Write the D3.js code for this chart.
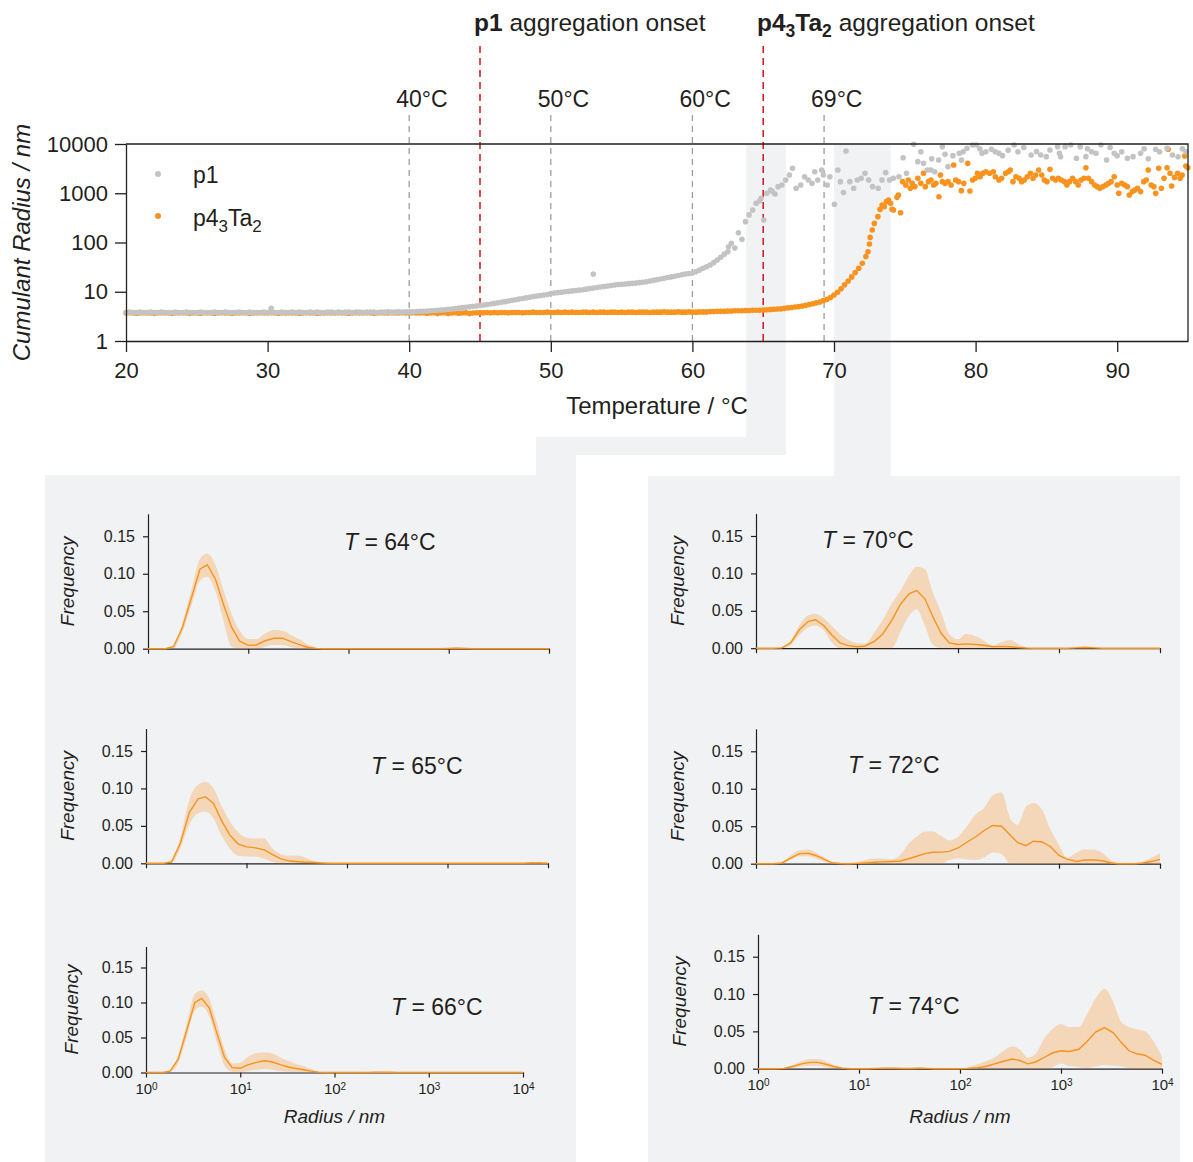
<!DOCTYPE html>
<html>
<head>
<meta charset="utf-8">
<script src="https://cdn.jsdelivr.net/npm/d3@7"></script>
<style>
  body { margin: 0; background: #ffffff; }
  svg { display: block; }
</style>
</head>
<body>
<svg id="fig" width="1193" height="1162"></svg>
<script>
// ---------------------------------------------------------------
// Temperature sweep: cumulant radius (nm), smooth part sampled every 0.25 °C
// ---------------------------------------------------------------
const sweepStart = 20, sweepStep = 0.25;

// p1, 20.00 … 64.75 °C
const p1Smooth = [
  3.8,3.85,3.8,3.8,3.85,3.8,3.8,3.85,3.8,3.8,3.85,3.8,3.8,3.8,3.85,3.8,3.8,3.85,3.8,3.8,
  3.8,3.85,3.8,3.8,3.8,3.85,3.8,3.8,3.85,3.8,3.8,3.8,3.85,3.8,3.8,3.85,3.8,3.8,3.8,3.85,
  3.8,3.85,3.8,3.8,3.85,3.8,3.8,3.85,3.8,3.85,3.8,3.8,3.85,3.8,3.85,3.8,3.8,3.85,3.85,3.8,
  3.85,3.8,3.85,3.85,3.8,3.85,3.85,3.8,3.85,3.85,3.85,3.8,3.85,3.85,3.9,3.85,3.85,3.9,3.85,3.9,
  3.9,3.9,3.95,4.0,4.0,4.05,4.1,4.15,4.2,4.25,4.3,4.4,4.45,4.55,4.65,4.75,4.85,4.95,5.05,5.15,
  5.3,5.4,5.5,5.65,5.8,5.95,6.1,6.3,6.5,6.7,6.9,7.1,7.3,7.5,7.75,8.0,8.2,8.4,8.6,8.8,
  9.2,9.4,9.6,9.8,10.0,10.2,10.4,10.6,10.8,11.0,11.3,11.6,11.9,12.2,12.5,12.8,13.1,13.4,13.7,14.0,
  14.2,14.4,14.6,14.8,15.0,15.3,15.6,16.0,16.5,17.0,17.6,18.2,18.8,19.5,20.0,20.7,21.4,22.1,22.8,23.4,
  24,25.5,27.5,30,32,35,39,44,50,58,65,96,77,158,116,265,363,458,625,700
];

// p4₃Ta₂, 20.00 … 72.25 °C
const p4Smooth = [
  3.7,3.75,3.7,3.65,3.7,3.75,3.7,3.7,3.65,3.7,3.75,3.7,3.7,3.65,3.7,3.7,3.75,3.7,3.65,3.7,
  3.7,3.65,3.75,3.7,3.7,3.65,3.7,3.75,3.7,3.7,3.65,3.7,3.7,3.75,3.7,3.65,3.7,3.7,3.75,3.7,
  3.7,3.75,3.7,3.65,3.7,3.7,3.75,3.7,3.7,3.65,3.7,3.75,3.7,3.7,3.65,3.7,3.7,3.75,3.7,3.7,
  3.75,3.7,3.7,3.65,3.7,3.75,3.7,3.7,3.75,3.7,3.65,3.7,3.75,3.7,3.7,3.75,3.7,3.7,3.75,3.7,
  3.7,3.75,3.7,3.7,3.75,3.65,3.7,3.75,3.6,3.7,3.75,3.6,3.7,3.75,3.65,3.7,3.75,3.6,3.7,3.75,
  3.75,3.75,3.8,3.75,3.8,3.75,3.8,3.8,3.75,3.8,3.8,3.8,3.75,3.8,3.8,3.85,3.8,3.8,3.8,3.85,
  3.8,3.8,3.85,3.8,3.85,3.8,3.85,3.8,3.8,3.85,3.85,3.8,3.85,3.8,3.85,3.85,3.8,3.85,3.85,3.8,
  3.85,3.8,3.85,3.85,3.8,3.85,3.85,3.85,3.8,3.85,3.85,3.85,3.9,3.85,3.85,3.85,3.9,3.85,3.85,3.9,
  3.85,3.85,3.9,3.9,3.9,3.95,3.95,4.0,4.0,4.0,4.05,4.05,4.1,4.1,4.1,4.15,4.15,4.2,4.2,4.2,
  4.25,4.3,4.35,4.4,4.45,4.5,4.6,4.7,4.8,4.9,5.0,5.15,5.3,5.5,5.7,5.95,6.2,6.6,7.0,7.6,
  8.6,9.8,11.5,13.8,16.5,20,24.5,30,38,52
];

// Scattered readings, [temperature °C, radius nm]
const p1Scatter = [
  [30.25,4.6],[53.0,23],[62.55,82],
  [64.85,790],[65.04,286],[65.25,995],[65.52,1160],[65.65,1080],[65.84,965],[66.05,1360],
  [66.32,1470],[66.59,1860],[66.85,2350],[67.07,3200],[67.33,1260],[67.65,1470],[67.92,2170],
  [68.19,1860],[68.45,1590],[68.64,2740],[68.85,1860],[69.12,2970],[69.25,2350],[69.52,1470],
  [69.71,2170],[70.03,596],[70.27,2970],[70.45,1720],[70.67,1030],[70.85,7200],[71.12,1720],
  [71.39,1260],[71.65,1860],[71.92,2010],[72.19,2540],[72.45,1860],[72.72,1360],[73.12,1260],
  [73.39,1860],[73.65,2620],[73.92,1860],[74.19,2010],[74.59,2170],[74.88,5270],[75.12,2540],
  [75.63,9860],[75.92,4380],[76.13,6980],[76.32,4050],[76.59,2970],[76.85,2970],[76.9,5000],
  [77.12,2740],[77.39,4730],[77.65,8830],[77.84,6170],[78.05,3470],[78.4,5800],[78.85,6460],
  [79.0,4700],[79.12,6980],[79.39,8170],[79.79,9550],[80.05,9550],[80.3,8000],[80.45,6460],
  [80.72,6980],[81.12,7800],[81.39,6980],[81.65,6460],[81.9,5800],[82.3,7500],[82.72,9550],
  [82.99,6980],[83.4,8500],[83.92,5980],[84.3,7000],[84.6,6000],[84.99,5530],[85.25,7550],
  [85.79,8830],[85.92,6460],[86.0,5500],[86.32,8830],[86.72,9550],[87.12,5120],[87.39,8830],
  [87.79,5530],[87.9,8000],[88.19,6980],[88.5,6500],[88.85,9550],[89.25,4730],[89.5,8500],
  [89.79,6460],[90.0,5800],[90.32,6980],[90.72,5120],[91.12,5530],[91.65,6460],[91.9,8000],
  [92.2,5000],[92.72,7800],[92.99,6980],[93.52,8170],[93.9,6000],[94.3,5500],[94.6,8000],
  [94.85,6980]
];

const p4Scatter = [
  [72.4,65],[72.5,93],[72.55,127],[72.7,179],[72.85,244],[73.1,335],[73.25,470],[73.4,578],
  [73.55,534],[73.7,675],[73.85,730],[74.0,625],[74.1,472],[74.2,457],[74.45,826],[74.55,920],
  [74.7,403],[74.85,1720],
  [75.07,1470],[75.25,1860],[75.39,1260],[75.52,1590],[75.71,1360],[75.92,2010],[76.13,1590],
  [76.32,2540],[76.45,1360],[76.67,1720],[76.85,1860],[77.04,1470],[77.2,1590],[77.41,850],
  [77.52,2350],[77.65,1720],[77.84,1590],[78.05,1720],[78.27,1470],[78.45,3750],[78.59,1860],
  [78.8,1720],[78.99,1130],[79.17,1590],[79.44,4050],[79.6,1110],[79.79,1860],[79.97,2010],
  [80.13,2540],[80.32,2170],[80.51,2540],[80.72,2740],[80.99,2540],[81.25,2740],[81.39,2170],
  [81.65,1860],[81.84,2010],[82.11,2540],[82.32,2740],[82.45,2970],[82.64,1720],[82.85,2170],
  [83.07,2010],[83.25,1720],[83.44,1860],[83.65,2170],[83.87,2540],[84.05,2010],[84.24,2350],
  [84.45,2970],[84.67,2350],[84.85,1860],[85.04,1720],[85.25,3060],[85.44,2010],[85.65,1860],
  [85.84,2010],[86.05,1860],[86.27,1720],[86.45,1470],[86.64,1720],[86.85,2010],[87.07,1720],
  [87.25,1470],[87.44,1860],[87.65,2010],[87.79,3300],[87.97,2010],[88.19,1720],[88.4,1470],
  [88.59,1360],[88.77,1260],[88.99,1360],[89.2,1470],[89.39,1590],[89.57,1720],[89.79,2170],
  [90.0,1470],[90.11,995],[90.32,1590],[90.53,1470],[90.72,1360],[90.85,920],[91.07,1080],
  [91.25,1160],[91.44,1260],[91.65,1080],[91.87,1720],[92.05,1860],[92.19,2970],[92.4,1470],
  [92.59,1360],[92.72,995],[92.93,3200],[93.12,1260],[93.31,2010],[93.52,3300],[93.6,7800],
  [93.73,2540],[93.84,1400],[94.05,2100],[94.27,2540],[94.45,2010],[94.59,2350],[94.77,5700],
  [94.85,3580],[94.99,3300]
];

const tempTicks = [20, 30, 40, 50, 60, 70, 80, 90];
const radiusTicks = [1, 10, 100, 1000, 10000];
const markerTemps = [40, 50, 60, 69.3];
const markerLabels = ['40°C', '50°C', '60°C', '69°C'];
const onsetTemps = [45, 65];
// temperature windows that are expanded into the distribution panels below
const windowTemps = [[63.8, 66.6], [70.0, 74.0]];

// ---------------------------------------------------------------
// Size distributions (frequency vs radius, nm): mean and spread
// ---------------------------------------------------------------
const radiusBins = [1,1.2,1.5,1.8,2.2,2.7,3.3,3.9,4.7,5.6,6.8,8.2,10,12,15,18,22,27,33,39,47,56,68,82,
  100,120,150,180,220,270,330,390,470,560,680,820,1000,1200,1500,1800,2200,2700,3300,3900,4700,5600,6800,8200,10000];

const dist64Mean = [0,0,0,0.003,0.028,0.067,0.106,0.112,0.093,0.061,0.029,0.010,0.0045,0.005,0.011,0.014,0.014,0.009,0.005,0.002,0.0005,
  0,0,0,0,0,0,0,0,0,0,0,0,0,0,0, 0.0003,0.0005,0.0003, 0,0,0,0,0,0,0,0,0,0];
const dist64Low = [0,0,0,0.001,0.022,0.057,0.091,0.096,0.077,0.040,0.003,0,0,0,0.003,0.005,0.005,0.002,0,0,0,
  0,0,0,0,0,0,0,0,0,0,0,0,0,0,0, 0,0,0, 0,0,0,0,0,0,0,0,0,0];
const dist64High = [0,0,0,0.005,0.034,0.078,0.120,0.127,0.112,0.080,0.047,0.024,0.013,0.013,0.021,0.025,0.024,0.018,0.012,0.006,0.002,
  0,0,0,0,0,0,0,0,0,0,0,0,0,0,0, 0.001,0.002,0.001, 0,0,0,0,0,0,0,0,0,0];

const dist65Mean = [0,0,0,0.002,0.027,0.068,0.086,0.089,0.080,0.058,0.038,0.026,0.022,0.021,0.018,0.012,0.006,0.003,0.002,0.0015,0.001,0.0005,
  0,0,0,0,0,0,0,0,0,0,0,0,0,0,0,0,0,0,0,0,0,0,0,0, 0.0005,0.0005,0];
const dist65Low = [0,0,0,0.001,0.020,0.052,0.067,0.069,0.060,0.038,0.020,0.010,0.009,0.009,0.006,0.002,0,0,0,0,0,0,
  0,0,0,0,0,0,0,0,0,0,0,0,0,0,0,0,0,0,0,0,0,0,0,0, 0,0,0];
const dist65High = [0,0,0,0.004,0.035,0.085,0.105,0.109,0.100,0.078,0.057,0.042,0.034,0.033,0.033,0.020,0.012,0.010,0.010,0.007,0.003,0.001,
  0,0,0,0,0,0,0,0,0,0,0,0,0,0,0,0,0,0,0,0,0,0,0,0, 0.002,0.002,0];

const dist66Mean = [0,0,0,0.002,0.019,0.060,0.100,0.106,0.092,0.058,0.022,0.007,0.006,0.011,0.0145,0.0167,0.015,0.011,0.0075,0.0058,0.004,0.002,0.0005,
  0,0,0,0,0,0, 0.0003,0.0005,0.0004, 0,0,0,0,0,0,0,0,0,0,0,0,0,0,0,0,0];
const dist66Low = [0,0,0,0.001,0.014,0.050,0.089,0.094,0.080,0.045,0.010,0.001,0,0.002,0.004,0.005,0.004,0.002,0.001,0.001,0,0,0,
  0,0,0,0,0,0, 0,0,0, 0,0,0,0,0,0,0,0,0,0,0,0,0,0,0,0,0];
const dist66High = [0,0,0,0.004,0.025,0.070,0.112,0.117,0.105,0.072,0.034,0.013,0.014,0.022,0.028,0.029,0.027,0.021,0.016,0.012,0.009,0.005,0.001,
  0,0,0,0,0,0, 0.001,0.0015,0.001, 0,0,0,0,0,0,0,0,0,0,0,0,0,0,0,0,0];

const dist70Mean = [0,0,0,0.0005,0.007,0.025,0.036,0.038,0.030,0.018,0.007,0.0035,0.002,0.003,0.0095,0.019,0.037,0.059,0.073,0.077,0.066,0.043,0.020,0.007,
  0.005,0.0058,0.005,0.004,0.002,0.0025,0.002,0.001,0.0003,0,0,0,0,0,0.0005,0.001,0.0005,0,0,0,0,0,0,0,0];
const dist70Low = [0,0,0,0,0.004,0.018,0.028,0.030,0.024,0.008,0,0,0,0,0,0,0,0.022,0.044,0.052,0.030,0.005,0,0,
  0,0,0,0,0,0,0,0,0,0,0,0,0,0,0,0,0,0,0,0,0,0,0,0,0];
const dist70High = [0,0,0,0.001,0.010,0.031,0.044,0.046,0.040,0.030,0.019,0.011,0.007,0.006,0.022,0.038,0.059,0.077,0.098,0.109,0.106,0.075,0.048,0.019,
  0.012,0.019,0.016,0.010,0.004,0.008,0.011,0.006,0.001,0,0,0,0,0,0.002,0.003,0.002,0,0,0,0,0,0,0,0];

const dist72Mean = [0,0,0,0.001,0.0075,0.0135,0.014,0.011,0.006,0.0015,0.0003,0,0.0004,0.001,0.002,0.0025,0.003,0.0036,0.007,0.010,0.0135,0.0152,0.0155,0.0165,
  0.021,0.028,0.036,0.044,0.051,0.050,0.038,0.028,0.024,0.030,0.029,0.023,0.011,0.006,0.003,0.005,0.005,0.004,0.001,0,0,0,0.001,0.003,0.0058];
const dist72Low = [0,0,0,0,0.005,0.010,0.010,0.007,0.003,0,0,0,0,0,0,0,0,0,0,0,0,0,0,0.005,
  0.007,0.006,0.005,0.008,0.015,0.013,0,0,0,0,0,0,0,0,0,0,0,0,0,0,0,0,0,0,0];
const dist72High = [0,0,0,0.002,0.011,0.018,0.019,0.015,0.009,0.003,0.001,0,0.002,0.005,0.007,0.007,0.006,0.012,0.028,0.036,0.043,0.043,0.037,0.031,
  0.036,0.048,0.066,0.074,0.091,0.095,0.060,0.052,0.076,0.081,0.072,0.046,0.025,0.008,0.015,0.019,0.019,0.014,0.004,0,0,0,0.003,0.008,0.014];

const dist74Mean = [0,0,0,0.0005,0.003,0.0065,0.0085,0.0085,0.006,0.003,0.0008,0,0,0,0.0004,0.0008,0.0006,0.0003,0.0003,0.0006,0.0004,0,0,0,
  0,0.0005,0.0015,0.003,0.0065,0.010,0.013,0.011,0.0065,0.009,0.015,0.021,0.024,0.023,0.026,0.036,0.049,0.055,0.048,0.036,0.024,0.020,0.018,0.0115,0.0058];
const dist74Low = [0,0,0,0,0.001,0.003,0.004,0.004,0.002,0,0,0,0,0,0,0,0,0,0,0,0,0,0,0,
  0,0,0,0,0,0,0,0,0,0,0,0.002,0.007,0.004,0.002,0.001,0.003,0.005,0.004,0.003,0.001,0,0,0,0];
const dist74High = [0,0,0,0.001,0.005,0.010,0.013,0.013,0.010,0.005,0.002,0,0,0,0.001,0.0015,0.0015,0.001,0.001,0.0015,0.001,0,0,0,
  0,0.002,0.006,0.010,0.015,0.024,0.030,0.026,0.015,0.020,0.040,0.053,0.060,0.056,0.056,0.072,0.094,0.107,0.089,0.064,0.056,0.053,0.050,0.037,0.016];

const freqTicks = [0, 0.05, 0.10, 0.15];

// ---------------------------------------------------------------
// Drawing
// ---------------------------------------------------------------
const FONT = '"Liberation Sans", Arial, Helvetica, sans-serif';
const ink = '#231f20';
const panelFill = '#f1f2f4';
const orange = '#f7931e';
const grey = '#c3c3c3';
const red = '#d2232a';

const svg = d3.select('#fig').attr('font-family', FONT);

// main plot frame
const plot = { left: 126, right: 1188, top: 144, bottom: 341 };
const xT = d3.scaleLinear().domain([20, 95]).range([plot.left, plot.right]);
const yR = d3.scaleLog().domain([1, 10000]).range([plot.bottom, plot.top]);

// shaded backgrounds: the two panels and their links to the temperature windows
const bg = svg.append('g');
bg.append('rect').attr('x', 45).attr('y', 475).attr('width', 531).attr('height', 687).attr('fill', panelFill);
bg.append('rect').attr('x', 648).attr('y', 476).attr('width', 532).attr('height', 686).attr('fill', panelFill);
{
  const a = xT(windowTemps[0][0]), b = xT(windowTemps[0][1]);
  bg.append('path')
    .attr('d', `M${a},${plot.top}H${b}V455H576V476H536V437H${a}Z`)
    .attr('fill', panelFill);
  const c = xT(windowTemps[1][0]), d = xT(windowTemps[1][1]);
  bg.append('path')
    .attr('d', `M${c},${plot.top}H${d}V477H${c}Z`)
    .attr('fill', panelFill);
}

// reference temperatures
const marks = svg.append('g');
markerTemps.forEach((t, i) => {
  marks.append('line')
    .attr('x1', xT(t)).attr('x2', xT(t))
    .attr('y1', 115).attr('y2', plot.bottom)
    .attr('stroke', '#9d9d9d').attr('stroke-width', 1.3)
    .attr('stroke-dasharray', '6,5');
  marks.append('text')
    .attr('x', xT(t) - 13).attr('y', 107)
    .attr('font-size', 23).attr('fill', ink)
    .text(markerLabels[i]);
});
onsetTemps.forEach(t => {
  marks.append('line')
    .attr('x1', xT(t)).attr('x2', xT(t))
    .attr('y1', 46).attr('y2', plot.bottom)
    .attr('stroke', red).attr('stroke-width', 1.6)
    .attr('stroke-dasharray', '7,5');
});

// onset titles
{
  const t1 = svg.append('text').attr('x', 474).attr('y', 31).attr('font-size', 24.5).attr('fill', ink);
  t1.append('tspan').attr('font-weight', 'bold').text('p1');
  t1.append('tspan').text(' aggregation onset');

  const t2 = svg.append('text').attr('x', 757).attr('y', 31).attr('font-size', 24.5).attr('fill', ink);
  t2.append('tspan').attr('font-weight', 'bold').text('p4');
  t2.append('tspan').attr('font-weight', 'bold').attr('font-size', 17.5).attr('dy', 6).text('3');
  t2.append('tspan').attr('font-weight', 'bold').attr('dy', -6).text('Ta');
  t2.append('tspan').attr('font-weight', 'bold').attr('font-size', 17.5).attr('dy', 6).text('2');
  t2.append('tspan').attr('dy', -6).text(' aggregation onset');
}

// scatter points
const toPoints = (smooth, scatter) =>
  smooth.map((r, i) => ({ t: sweepStart + i * sweepStep, r }))
    .concat(scatter.map(([t, r]) => ({ t, r })));

const pts = svg.append('g');
pts.selectAll('circle.p4').data(toPoints(p4Smooth, p4Scatter)).join('circle')
  .attr('class', 'p4')
  .attr('cx', d => xT(d.t)).attr('cy', d => yR(d.r)).attr('r', 2.8)
  .attr('fill', orange);
pts.selectAll('circle.p1').data(toPoints(p1Smooth, p1Scatter)).join('circle')
  .attr('class', 'p1')
  .attr('cx', d => xT(d.t)).attr('cy', d => yR(d.r)).attr('r', 2.8)
  .attr('fill', grey);

// axes of the temperature sweep
function styleAxis(g, size) {
  g.attr('font-family', FONT).attr('font-size', size);
  g.selectAll('path, line').attr('stroke', ink).attr('stroke-width', 1.3);
  g.selectAll('text').attr('fill', ink);
}
const gx = svg.append('g').attr('transform', `translate(0,${plot.bottom})`)
  .call(d3.axisBottom(xT).tickValues(tempTicks).tickSize(11).tickPadding(10).tickSizeOuter(0));
styleAxis(gx, 22);
const gy = svg.append('g').attr('transform', `translate(${plot.left},0)`)
  .call(d3.axisLeft(yR).tickValues(radiusTicks).tickFormat(d3.format('d')).tickSize(11).tickPadding(7).tickSizeOuter(0));
styleAxis(gy, 22);
svg.append('path')
  .attr('d', `M${plot.left},${plot.top}H${plot.right}V${plot.bottom}`)
  .attr('fill', 'none').attr('stroke', ink).attr('stroke-width', 1.3);

svg.append('text')
  .attr('x', (plot.left + plot.right) / 2 + 0).attr('y', 414)
  .attr('text-anchor', 'middle').attr('font-size', 24).attr('fill', ink)
  .text('Temperature / °C');
svg.append('text')
  .attr('transform', `translate(30,${(plot.top + plot.bottom) / 2}) rotate(-90)`)
  .attr('text-anchor', 'middle').attr('font-size', 24).attr('font-style', 'italic').attr('fill', ink)
  .text('Cumulant Radius / nm');

// legend
{
  const lg = svg.append('g');
  lg.append('circle').attr('cx', 158).attr('cy', 174).attr('r', 3).attr('fill', grey);
  lg.append('text').attr('x', 193).attr('y', 183).attr('font-size', 23).attr('fill', ink).text('p1');
  lg.append('circle').attr('cx', 158).attr('cy', 216).attr('r', 3).attr('fill', orange);
  const t = lg.append('text').attr('x', 193).attr('y', 226).attr('font-size', 23).attr('fill', ink);
  t.append('tspan').text('p4');
  t.append('tspan').attr('font-size', 17).attr('dy', 6).text('3');
  t.append('tspan').attr('dy', -6).text('Ta');
  t.append('tspan').attr('font-size', 17).attr('dy', 6).text('2');
}

// ---------------------------------------------------------------
// distribution panels
// ---------------------------------------------------------------
const panels = [
  { label: '64', mean: dist64Mean, low: dist64Low, high: dist64High, x0: 148, x1: 549, y0: 648.7, y15: 536.3, lx: 344, ly: 550, fx: 74, xlabels: false },
  { label: '65', mean: dist65Mean, low: dist65Low, high: dist65High, x0: 146, x1: 548, y0: 863.3, y15: 751, lx: 371, ly: 774, fx: 74, xlabels: false },
  { label: '66', mean: dist66Mean, low: dist66Low, high: dist66High, x0: 146, x1: 523, y0: 1072.5, y15: 967.5, lx: 391, ly: 1015, fx: 78, xlabels: true },
  { label: '70', mean: dist70Mean, low: dist70Low, high: dist70High, x0: 756, x1: 1160, y0: 648.2, y15: 536, lx: 822, ly: 548, fx: 684, xlabels: false },
  { label: '72', mean: dist72Mean, low: dist72Low, high: dist72High, x0: 756, x1: 1160, y0: 863.7, y15: 751.3, lx: 848, ly: 773, fx: 684, xlabels: false },
  { label: '74', mean: dist74Mean, low: dist74Low, high: dist74High, x0: 758, x1: 1162, y0: 1068.7, y15: 956.7, lx: 868, ly: 1014, fx: 686, xlabels: true }
];

panels.forEach(p => {
  const g = svg.append('g');
  const x = d3.scaleLog().domain([1, 10000]).range([p.x0, p.x1]);
  const unit = (p.y0 - p.y15) / 0.15;
  const y = d3.scaleLinear().domain([0, 0.18]).range([p.y0, p.y0 - 0.18 * unit]);

  const ax = g.append('g').attr('transform', `translate(0,${p.y0})`)
    .call(d3.axisBottom(x).tickValues(radiusTicks).tickSize(5).tickPadding(6).tickSizeOuter(0));
  styleAxis(ax, 15);
  ax.selectAll('path, line').attr('stroke-width', 1.2);
  if (p.xlabels) {
    ax.selectAll('.tick text').each(function (d) {
      const t = d3.select(this);
      t.text('10');
      t.append('tspan').attr('dy', '-0.45em').attr('font-size', 10).text(Math.round(Math.log10(d)));
    });
    g.append('text')
      .attr('x', (p.x0 + p.x1) / 2).attr('y', 1123)
      .attr('text-anchor', 'middle').attr('font-size', 19).attr('font-style', 'italic').attr('fill', ink)
      .text('Radius / nm');
  } else {
    ax.selectAll('.tick text').remove();
  }

  const ay = g.append('g').attr('transform', `translate(${p.x0},0)`)
    .call(d3.axisLeft(y).tickValues(freqTicks).tickFormat(d3.format('.2f')).tickSize(5).tickPadding(8).tickSizeOuter(0));
  styleAxis(ay, 16);
  ay.selectAll('path, line').attr('stroke-width', 1.2);

  g.append('text')
    .attr('transform', `translate(${p.fx},${(p.y0 + y(0.18)) / 2}) rotate(-90)`)
    .attr('text-anchor', 'middle').attr('font-size', 19).attr('font-style', 'italic').attr('fill', ink)
    .text('Frequency');

  const rows = radiusBins.map((r, i) => ({ r, m: p.mean[i], lo: p.low[i], hi: p.high[i] }));
  g.append('path').datum(rows)
    .attr('d', d3.area().x(d => x(d.r)).y0(d => y(d.lo)).y1(d => y(d.hi)).curve(d3.curveMonotoneX))
    .attr('fill', orange).attr('fill-opacity', 0.28);
  g.append('path').datum(rows)
    .attr('d', d3.line().x(d => x(d.r)).y(d => y(d.m)))
    .attr('fill', 'none').attr('stroke', orange).attr('stroke-width', 1.4);

  const lab = g.append('text').attr('x', p.lx).attr('y', p.ly).attr('font-size', 23).attr('fill', ink);
  lab.append('tspan').attr('font-style', 'italic').text('T');
  lab.append('tspan').text(` = ${p.label}°C`);
});
</script>
</body>
</html>
